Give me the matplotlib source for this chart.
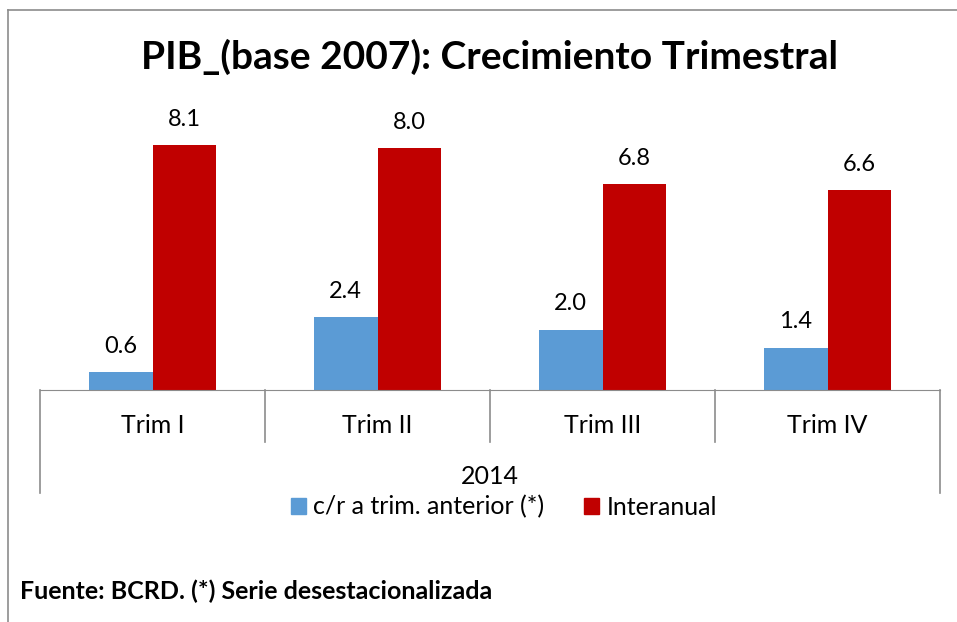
import matplotlib.pyplot as plt
import matplotlib.transforms as mtransforms
from matplotlib.patches import Patch
from matplotlib.lines import Line2D
import numpy as np

plt.rcParams['font.family'] = ['Lato', 'DejaVu Sans']

categories = ["Trim I", "Trim II", "Trim III", "Trim IV"]
year_label = "2014"
trim_anterior = [0.6, 2.4, 2.0, 1.4]
interanual = [8.1, 8.0, 6.8, 6.6]
series_names = ["c/r a trim. anterior (*)", "Interanual"]
colors = ["#5B9BD5", "#C00000"]

W, H = 957, 622
fig = plt.figure(figsize=(W / 100, H / 100), dpi=100)

# outer frame (top and left edges visible)
fig.add_artist(Line2D([8 / W, 1.0], [1 - 10 / H, 1 - 10 / H], color="#8c8c8c", lw=1.2))
fig.add_artist(Line2D([8 / W, 8 / W], [0, 1 - 10 / H], color="#8c8c8c", lw=1.2))

ymax = 9.0
px_per_unit = 30.25
ax_h = ymax * px_per_unit
ax = fig.add_axes([40 / W, (H - 390) / H, 900 / W, ax_h / H])

x = np.arange(len(categories))
bw = 0.284
b1 = ax.bar(x - bw / 2, trim_anterior, bw, color=colors[0], label=series_names[0])
b2 = ax.bar(x + bw / 2, interanual, bw, color=colors[1], label=series_names[1])

for bars, vals in ((b1, trim_anterior), (b2, interanual)):
    for rect, v in zip(bars, vals):
        ax.annotate(f"{v:.1f}", (rect.get_x() + rect.get_width() / 2, v),
                    xytext=(0, 11), textcoords="offset points",
                    ha="center", va="bottom", fontsize=17)

ax.set_xlim(-0.5, len(categories) - 0.5)
ax.set_ylim(0, ymax)
for s in ("top", "right", "left"):
    ax.spines[s].set_visible(False)
ax.spines["bottom"].set_color("#8c8c8c")
ax.set_yticks([])
ax.set_xticks(x)
ax.set_xticklabels(categories, fontsize=18)
ax.tick_params(axis="x", length=0, pad=17)

# category separators
trans = mtransforms.blended_transform_factory(ax.transData, ax.transAxes)
edges = np.arange(len(categories) + 1) - 0.5
inner_low = -52 / ax_h
outer_low = -103 / ax_h
for e in edges:
    low = outer_low if e in (edges[0], edges[-1]) else inner_low
    ax.plot([e, e], [0, low], color="#8c8c8c", lw=1.2, transform=trans, clip_on=False)

ax.text(np.mean(x), -86 / ax_h, year_label, transform=trans, ha="center", va="center", fontsize=18)

fig.text(490 / W, 1 - 57 / H, "PIB_(base 2007): Crecimiento Trimestral",
         ha="center", va="center", fontsize=28, fontweight="bold")

handles = [Patch(color=c, label=n) for c, n in zip(colors, series_names)]
fig.legend(handles=handles, loc="center", bbox_to_anchor=(504 / W, 1 - 507 / H), ncol=2,
           frameon=False, fontsize=18, handlelength=0.6, handleheight=0.6,
           handletextpad=0.3, columnspacing=1.6)

fig.text(20 / W, 1 - 591 / H, "Fuente: BCRD. (*) Serie desestacionalizada",
         ha="left", va="center", fontsize=18, fontweight="bold")

fig.savefig("out.png", dpi=100)
